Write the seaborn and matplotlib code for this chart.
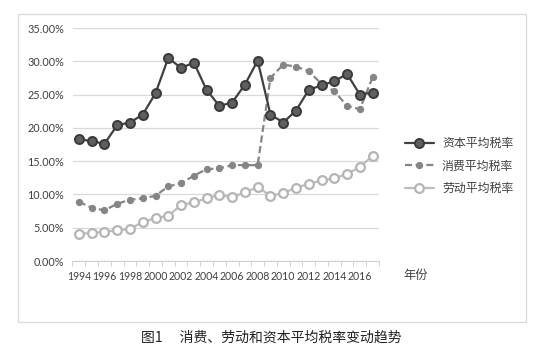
import numpy as np
import matplotlib.pyplot as plt
import matplotlib.ticker as mticker
from matplotlib.patches import Rectangle
import seaborn as sns

# ----------------------------------------------------------------------
# Data (percent)
# ----------------------------------------------------------------------
YEARS = list(range(1994, 2018))
CAPITAL = [18.3, 18.0, 17.6, 20.4, 20.8, 22.0, 25.2, 30.5, 29.0, 29.8,
           25.7, 23.3, 23.8, 26.5, 30.1, 22.0, 20.8, 22.6, 25.7, 26.4,
           27.0, 28.1, 25.0, 25.3]
CONSUMPTION = [8.9, 8.0, 7.6, 8.6, 9.2, 9.4, 9.8, 11.2, 11.7, 12.8,
               13.8, 13.9, 14.4, 14.4, 14.4, 27.5, 29.5, 29.2, 28.5, 26.6,
               25.5, 23.3, 22.8, 27.6]
LABOR = [4.1, 4.2, 4.4, 4.6, 4.8, 5.9, 6.4, 6.8, 8.4, 8.8,
         9.4, 9.9, 9.6, 10.3, 11.1, 9.8, 10.2, 11.0, 11.6, 12.1,
         12.4, 13.1, 14.1, 15.8]
SERIES_NAMES = ["资本平均税率", "消费平均税率", "劳动平均税率"]
Y_TICKS = [0, 5, 10, 15, 20, 25, 30, 35]
X_LABEL_YEARS = list(range(1994, 2017, 2))

# ----------------------------------------------------------------------
# Style
# ----------------------------------------------------------------------
sns.set_style("white")
plt.rcParams["font.family"] = ["Lato", "Noto Sans CJK SC", "DejaVu Sans"]

W, H = 543, 354
fig = plt.figure(figsize=(W / 100, H / 100), dpi=100)
fig.patch.set_facecolor("white")

# outer chart frame (Excel-like)
fig.patches.append(Rectangle((18 / W, 1 - 322 / H), (526 - 18) / W, (322 - 14) / H,
                             transform=fig.transFigure, fill=False,
                             edgecolor="#d9d9d9", linewidth=0.9))

left, right, top, bottom = 72.5, 379, 28, 261
ax = fig.add_axes([left / W, 1 - bottom / H, (right - left) / W, (bottom - top) / H])

sns.lineplot(x=YEARS, y=CAPITAL, ax=ax, color="#404040", linewidth=1.6,
             marker="o", markersize=6.5, markerfacecolor="#5f5f5f",
             markeredgecolor="#3a3a3a", markeredgewidth=1.4,
             label=SERIES_NAMES[0], zorder=4)
sns.lineplot(x=YEARS, y=CONSUMPTION, ax=ax, color="#858585", linewidth=1.6,
             linestyle=(0, (3.2, 1.6)), marker="o", markersize=4.5,
             markerfacecolor="#858585", markeredgecolor="#858585",
             label=SERIES_NAMES[1], zorder=3)
sns.lineplot(x=YEARS, y=LABOR, ax=ax, color="#bdbdbd", linewidth=1.6,
             marker="o", markersize=6.3, markerfacecolor="white",
             markeredgecolor="#b5b5b5", markeredgewidth=1.6,
             label=SERIES_NAMES[2], zorder=2)

ax.set_xlim(1993.5, 2017.5)
ax.set_ylim(0, 35)
ax.set_yticks(Y_TICKS)
ax.yaxis.set_major_formatter(mticker.FuncFormatter(lambda v, p: f"{v:.2f}%"))
ax.grid(axis="y", color="#d9d9d9", linewidth=0.9)
ax.set_axisbelow(True)

ax.set_xticks(X_LABEL_YEARS)
ax.set_xticklabels([str(y) for y in X_LABEL_YEARS])
ax.set_xticks(np.arange(1993.5, 2018, 1.0), minor=True)
ax.tick_params(axis="x", which="major", length=0, pad=7, labelsize=7.6,
               labelcolor="#404040")
ax.tick_params(axis="x", which="minor", length=3.5, width=0.7, color="#d0d0d0",
               direction="out", bottom=True)
ax.tick_params(axis="y", length=0, pad=6, labelsize=7.8, labelcolor="#404040")

for s in ["left", "right", "top"]:
    ax.spines[s].set_visible(False)
ax.spines["bottom"].set_color("#d0d0d0")
ax.spines["bottom"].set_linewidth(0.8)
ax.set_xlabel("")
ax.set_ylabel("")

leg = ax.legend(loc="upper left", bbox_to_anchor=(405 / W, 1 - 137 / H),
                bbox_transform=fig.transFigure, frameon=False,
                borderpad=0, borderaxespad=0,
                handlelength=2.4, handletextpad=0.7, labelspacing=0.8,
                prop={"family": ["Noto Sans CJK SC"], "size": 8.6})
for t in leg.get_texts():
    t.set_color("#404040")

fig.text(403 / W, 1 - 276 / H, "年份", ha="left", va="center",
         fontsize=8.8, color="#404040", family=["Noto Sans CJK SC"])

fig.text(271 / W, 1 - 338 / H, "图1\u3000 消费、劳动和资本平均税率变动趋势",
         ha="center", va="center", fontsize=10, color="#222222",
         family=["Noto Sans CJK SC"])

fig.savefig("out.png", dpi=100, facecolor="white")
